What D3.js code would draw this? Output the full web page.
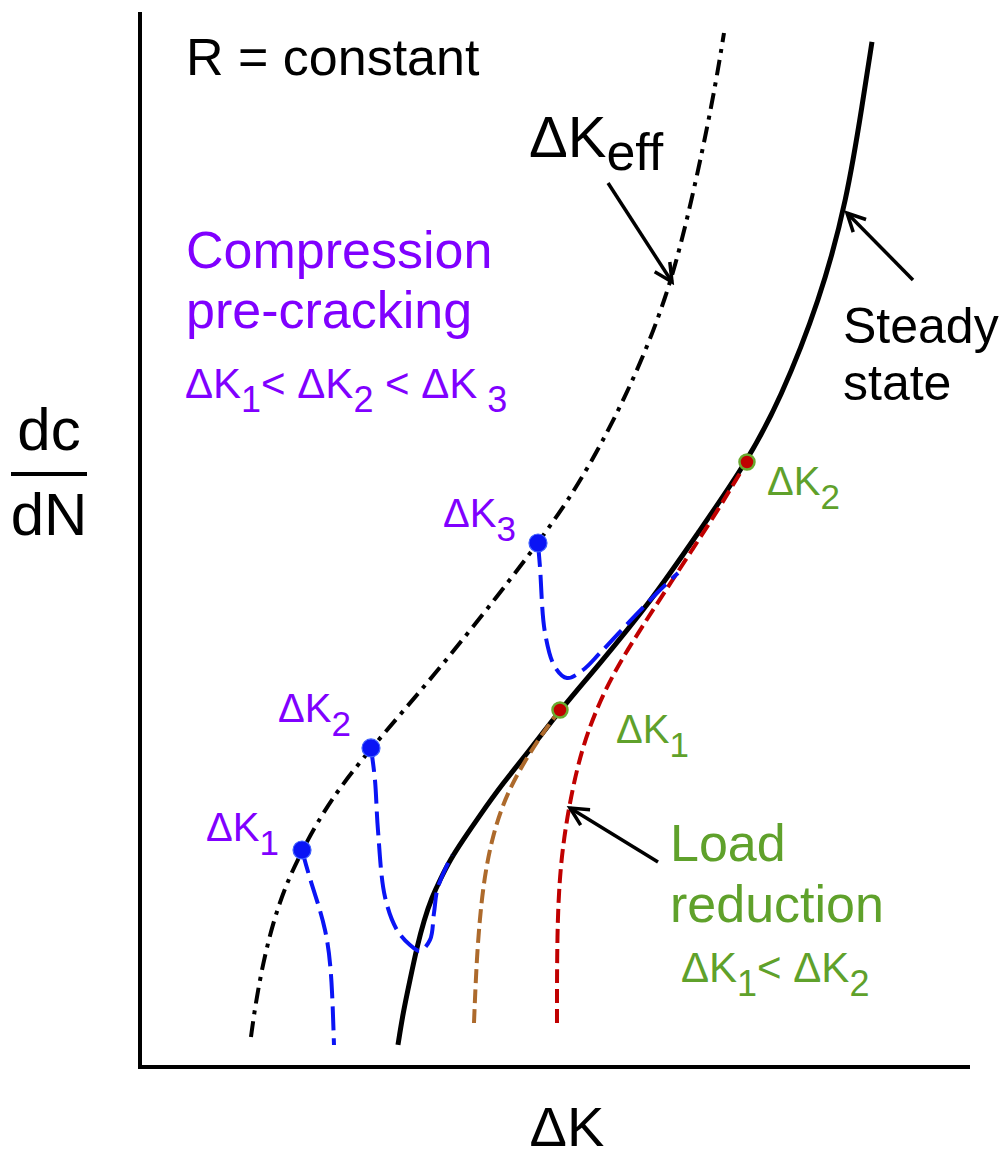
<!DOCTYPE html>
<html>
<head>
<meta charset="utf-8">
<script src="https://cdn.jsdelivr.net/npm/d3@7"></script>
<style>
  html, body { margin: 0; padding: 0; background: #fff; }
  svg { display: block; font-family: "Liberation Sans", Arial, sans-serif; }
</style>
</head>
<body>
<svg id="chart" width="1006" height="1152"></svg>
<script>
// Schematic crack-growth curves: dc/dN versus ΔK (arbitrary units, 0–100 on each axis)

// Steady-state growth curve
const steadyState = [
  [31.08, 2.09], [31.69, 5.12], [32.53, 8.25], [33.37, 11.37], [34.22, 13.93],
  [35.18, 16.11], [36.14, 17.73], [37.35, 19.62], [38.92, 21.52], [40.72, 23.60],
  [43.73, 26.92], [46.99, 30.05], [50.60, 33.84], [55.06, 37.91], [61.69, 44.27],
  [67.23, 50.62], [73.13, 57.35], [77.11, 63.22], [81.93, 72.70], [85.18, 82.18],
  [87.11, 91.66], [88.19, 97.16]
];

// Effective ΔK curve
const deltaKeff = [
  [13.37, 2.84], [13.86, 5.69], [14.82, 9.86], [16.02, 13.65], [17.47, 17.06],
  [19.52, 20.57], [22.89, 25.31], [27.83, 30.24], [35.30, 36.97], [43.37, 44.93],
  [47.95, 49.67], [52.77, 54.98], [58.43, 63.22], [63.49, 72.70], [66.51, 82.18],
  [69.04, 91.66], [70.36, 98.01]
];

// Compression pre-cracking transients, starting at ΔK1, ΔK2, ΔK3
const precrack1 = [
  [19.52, 20.57], [20.48, 17.73], [22.53, 12.99], [23.13, 8.25], [23.37, 2.09]
];
const precrack2 = [
  [27.83, 30.24], [28.31, 27.20], [28.67, 22.46], [29.52, 16.11], [30.96, 12.99],
  [32.53, 11.56], [33.73, 11.00], [34.94, 12.04], [35.42, 14.60], [35.90, 17.06],
  [37.59, 20.09]
];
const precrack3 = [
  [47.95, 49.67], [48.19, 47.39], [48.80, 41.14], [50.00, 37.91], [51.45, 36.87],
  [53.37, 37.63], [55.42, 39.24], [59.40, 42.56], [62.29, 44.93], [64.82, 46.82]
];

// Load-reduction curves ending at ΔK1 and ΔK2
const loadReduction1 = [
  [40.24, 4.17], [40.60, 11.09], [41.33, 17.44], [42.53, 22.18], [44.22, 25.97],
  [46.63, 29.38], [49.04, 32.23], [50.60, 33.84]
];
const loadReduction2 = [
  [50.24, 4.17], [50.24, 12.70], [50.60, 18.96], [51.57, 24.36], [53.13, 30.05],
  [55.42, 34.79], [57.83, 38.39], [60.48, 41.71], [63.37, 45.21], [66.51, 49.00],
  [69.64, 52.80], [71.93, 55.83], [73.13, 57.35]
];

// Start points
const precrackPoints = [[19.52, 20.57], [27.83, 30.24], [47.95, 49.67]];
const loadPoints = [[50.60, 33.84], [73.13, 57.35]];

// Pointer arrows: [tail, tip]
const arrowKeff = [[56.39, 83.79], [64.10, 74.41]];
const arrowSteady = [[93.13, 74.60], [85.18, 80.95]];
const arrowLoad = [[62.41, 19.43], [51.81, 24.55]];

const PURPLE = "#8000ff";
const GREEN = "#5fa12b";
const BLUE = "#0a14f5";

const svg = d3.select("#chart");
const x = d3.scaleLinear().domain([0, 100]).range([140, 970]);
const y = d3.scaleLinear().domain([0, 100]).range([1067, 12]);

// Smooth B-spline for the rising curves; Catmull-Rom for the dipping transients
const smooth = d3.line().x(d => x(d[0])).y(d => y(d[1])).curve(d3.curveBasis);
const bendy = d3.line().x(d => x(d[0])).y(d => y(d[1])).curve(d3.curveCatmullRom.alpha(0.5));

// Arrowhead
svg.append("defs").append("marker")
  .attr("id", "head")
  .attr("markerUnits", "userSpaceOnUse")
  .attr("viewBox", "-22 -14 26 28")
  .attr("refX", 0).attr("refY", 0)
  .attr("markerWidth", 26).attr("markerHeight", 28)
  .attr("orient", "auto")
  .append("path")
  .attr("d", "M-18,-9 L0,0 L-18,9")
  .attr("fill", "none").attr("stroke", "#000").attr("stroke-width", 3.5);

// Axes (plain lines, no ticks)
svg.append("line")
  .attr("x1", x(0)).attr("x2", x(0)).attr("y1", y(100)).attr("y2", y(0) + 2)
  .attr("stroke", "#000").attr("stroke-width", 4);
svg.append("line")
  .attr("x1", x(0) - 2).attr("x2", x(100)).attr("y1", y(0)).attr("y2", y(0))
  .attr("stroke", "#000").attr("stroke-width", 4);

// Curves
svg.append("path").attr("d", smooth(deltaKeff))
  .attr("fill", "none").attr("stroke", "#000").attr("stroke-width", 4)
  .attr("stroke-dasharray", "16 7 4 7");

svg.append("path").attr("d", smooth(steadyState))
  .attr("fill", "none").attr("stroke", "#000").attr("stroke-width", 5);

svg.append("path").attr("d", smooth(loadReduction1))
  .attr("fill", "none").attr("stroke", "#ad6a2c").attr("stroke-width", 4)
  .attr("stroke-dasharray", "14 6");
svg.append("path").attr("d", smooth(loadReduction2))
  .attr("fill", "none").attr("stroke", "#c00000").attr("stroke-width", 4)
  .attr("stroke-dasharray", "14 6");

svg.append("path").attr("d", smooth(precrack1))
  .attr("fill", "none").attr("stroke", BLUE).attr("stroke-width", 4)
  .attr("stroke-dasharray", "24 8");
[precrack2, precrack3].forEach(c => svg.append("path").attr("d", bendy(c))
  .attr("fill", "none").attr("stroke", BLUE).attr("stroke-width", 4)
  .attr("stroke-dasharray", "24 8"));

// Points
svg.selectAll("circle.pc").data(precrackPoints).join("circle")
  .attr("class", "pc")
  .attr("cx", d => x(d[0])).attr("cy", d => y(d[1])).attr("r", 9)
  .attr("fill", BLUE).attr("stroke", "#4060ff").attr("stroke-width", 1.2);
svg.selectAll("circle.lr").data(loadPoints).join("circle")
  .attr("class", "lr")
  .attr("cx", d => x(d[0])).attr("cy", d => y(d[1])).attr("r", 7.5)
  .attr("fill", "#c00000").attr("stroke", "#6aaa30").attr("stroke-width", 2.5);

// Arrows
[arrowKeff, arrowSteady, arrowLoad].forEach(a => svg.append("line")
  .attr("x1", x(a[0][0])).attr("y1", y(a[0][1]))
  .attr("x2", x(a[1][0])).attr("y2", y(a[1][1]))
  .attr("stroke", "#000").attr("stroke-width", 3.5)
  .attr("marker-end", "url(#head)"));

// Text helpers
function plain(tx, ty, str, size, color, anchor) {
  return svg.append("text").attr("x", tx).attr("y", ty)
    .attr("font-size", size).attr("fill", color)
    .attr("text-anchor", anchor || "start").text(str);
}
// parts: [text, isSub]
function rich(tx, ty, parts, size, subSize, shift, color) {
  const t = svg.append("text").attr("x", tx).attr("y", ty).attr("fill", color)
    .attr("xml:space", "preserve");
  let sub = false;
  parts.forEach(([s, isSub]) => {
    const sp = t.append("tspan").text(s).attr("font-size", isSub ? subSize : size);
    if (isSub !== sub) sp.attr("dy", isSub ? shift : -shift);
    sub = isSub;
  });
  return t;
}

plain(186, 75, "R = constant", 52, "#000");
plain(186, 268, "Compression", 52, PURPLE);
plain(186, 328, "pre-cracking", 52, PURPLE);
rich(185, 398, [["ΔK", false], ["1", true], ["< ΔK", false], ["2", true], [" < ΔK", false], [" 3", true]], 42, 36, 14, PURPLE);

rich(529, 157, [["ΔK", false], ["eff", true]], 58, 52, 13, "#000");

plain(843, 343, "Steady", 50, "#000");
plain(843, 400, "state", 50, "#000");

// y-axis label as a fraction
plain(49, 450, "dc", 60, "#000", "middle");
svg.append("line").attr("x1", 11).attr("x2", 87).attr("y1", 474).attr("y2", 474)
  .attr("stroke", "#000").attr("stroke-width", 4);
plain(49, 535, "dN", 60, "#000", "middle");

// x-axis label
plain(567, 1146, "ΔK", 56, "#000", "middle");

// Point labels
rich(206, 841, [["ΔK", false], ["1", true]], 40, 35, 14, PURPLE);
rich(278, 722, [["ΔK", false], ["2", true]], 40, 35, 14, PURPLE);
rich(443, 527, [["ΔK", false], ["3", true]], 40, 35, 14, PURPLE);
rich(616, 743, [["ΔK", false], ["1", true]], 40, 35, 14, GREEN);
rich(767, 495, [["ΔK", false], ["2", true]], 40, 35, 14, GREEN);

plain(670, 861, "Load", 52, GREEN);
plain(670, 922, "reduction", 52, GREEN);
rich(681, 982, [["ΔK", false], ["1", true], ["< ΔK", false], ["2", true]], 42, 36, 14, GREEN);
</script>
</body>
</html>
